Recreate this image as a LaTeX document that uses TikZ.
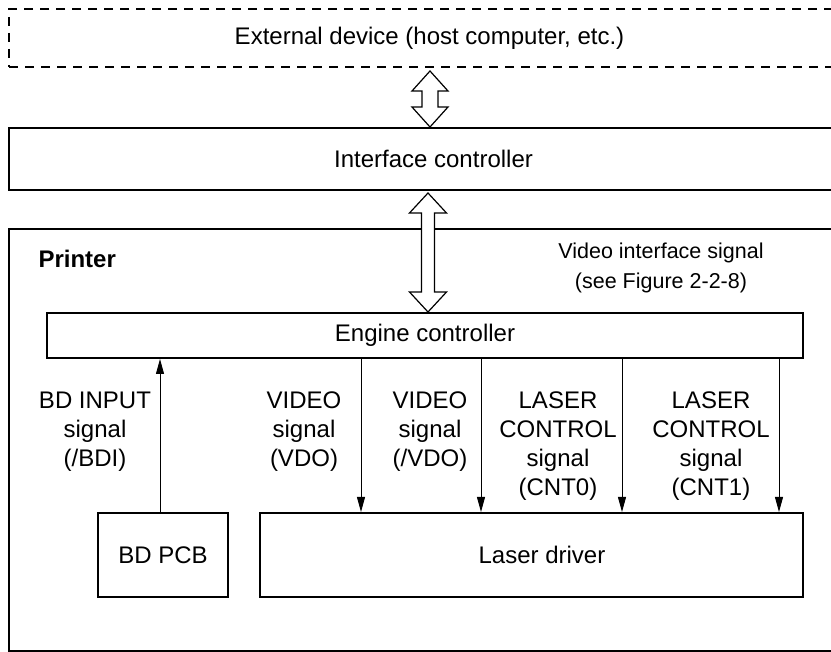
\documentclass[tikz,border=0pt]{standalone}
\usepackage{fontspec}
\setmainfont{Liberation Sans}
\usetikzlibrary{arrows.meta}

\tikzset{
  box/.style={draw, line width=2pt, inner sep=0pt},
  sig/.style={line width=0.9pt, -{Triangle[length=15pt,width=8pt]}},
  bus/.style={draw, line width=1.2pt, fill=white, line join=miter},
  lbl/.style={align=center},
}

% double headed bus arrow: top tip, bottom tip, shaft half width, head half width
\newcommand{\busarrow}[4]{%
  \draw[bus] (#1) -- ([shift={(#4,20)}]#1) -- ([shift={(#3,20)}]#1)
    -- ([shift={(#3,-20)}]#2) -- ([shift={(#4,-20)}]#2) -- (#2)
    -- ([shift={(-#4,-20)}]#2) -- ([shift={(-#3,-20)}]#2)
    -- ([shift={(-#3,20)}]#1) -- ([shift={(-#4,20)}]#1) -- cycle;}

\begin{document}
\begin{tikzpicture}[x=1pt, y=-1pt, font=\fontsize{24}{29}\selectfont]
\useasboundingbox (0,0) rectangle (831,652);
\clip (0,0) rectangle (831,652);

\node[box, dash pattern=on 9pt off 7pt, minimum width=831pt, minimum height=58pt,
  label={[xshift=5pt]center:External device (host computer, etc.)}] (ext) at (424.5,38) {};
\node[box, minimum width=831pt, minimum height=62pt,
  label={[xshift=9pt]center:Interface controller}] (iface) at (424.5,159) {};
\node[box, minimum width=831pt, minimum height=422pt] (printer) at (424.5,440) {};
\node[anchor=base west, font=\fontsize{24}{29}\selectfont\bfseries] (ptitle) at (35,268) {Printer};

\node[box, minimum width=756pt, minimum height=45pt] (engine) at (425,335.5) {Engine controller};
\node[box, minimum width=543pt, minimum height=84pt,
  label={[xshift=10.5pt]center:Laser driver}] (laser) at (531.5,555) {};
\node[box, minimum width=130pt, minimum height=84pt] (bdpcb) at (163,555) {BD PCB};

% bus arrows
\coordinate (t1) at ([xshift=5.5pt,yshift=-3pt]ext.south);
\coordinate (b1) at (t1 |- iface.north);
\coordinate (t2) at ([xshift=3.5pt,yshift=-2pt]iface.south);
\coordinate (b2) at (t2 |- engine.north);
\busarrow{t1}{b1}{8}{18}
\busarrow{t2}{b2}{6.5}{18.5}

\node[lbl, font=\fontsize{21.5}{30}\selectfont] (vif) at (661,267.5) {Video interface signal\\(see Figure 2-2-8)};

% signal labels
\node[lbl] (bdi) at (95,432) {BD INPUT\\signal\\(/BDI)};
\node[lbl] (vdo) at (304,432) {VIDEO\\signal\\(VDO)};
\node[lbl] (nvdo) at (430,432) {VIDEO\\signal\\(/VDO)};
\node[lbl] (cnt0) at (558,446) {LASER\\CONTROL\\signal\\(CNT0)};
\node[lbl] (cnt1) at (711,446) {LASER\\CONTROL\\signal\\(CNT1)};

% signals
\draw[sig] ([xshift=-3pt]bdpcb.north) coordinate (s) -- (s |- engine.south);
\foreach \dx in {315,435,576,733}
  \draw[sig] ([xshift=\dx pt]engine.south west) coordinate (s) -- (s |- laser.north);
\end{tikzpicture}
\end{document}
